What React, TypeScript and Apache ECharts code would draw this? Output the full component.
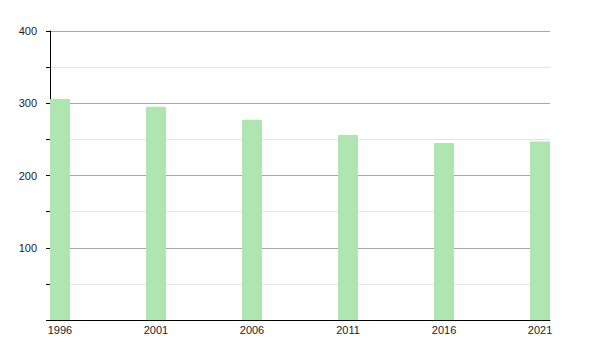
import React, { useEffect, useRef } from "react";
import * as echarts from "echarts";

const years: number[] = [1996, 2001, 2006, 2011, 2016, 2021];
const values: number[] = [306, 295, 277, 256, 245, 247];
const yTickLabels: number[] = [100, 200, 300, 400];

export default function App() {
  const ref = useRef<HTMLDivElement>(null);
  useEffect(() => {
    if (!ref.current) return;
    const chart = echarts.init(ref.current, null, { renderer: "svg" });
    const offset = 0.52; // bar drawn to the right of its year
    chart.setOption({
      animation: false,
      grid: { left: 50, right: 50, top: 31, bottom: 30 },
      xAxis: {
        type: "value",
        min: 1996,
        max: 2022.04,
        axisLine: { show: true, lineStyle: { color: "#000", width: 1 } },
        axisTick: { show: false },
        splitLine: { show: false },
        axisLabel: {
          customValues: years.map((y) => y + offset),
          formatter: (v: number) => String(Math.floor(v)),
          color: "#222",
          fontSize: 11,
          fontFamily: "Liberation Sans",
          margin: 4,
        },
      },
      yAxis: {
        type: "value",
        min: 0,
        max: 400,
        interval: 50,
        axisLine: { show: true, lineStyle: { color: "#000", width: 1 } },
        axisTick: { show: true, length: 4, lineStyle: { color: "#000" } },
        splitLine: {
          show: true,
          lineStyle: { color: ["#aaaaaa", "#e2e2e2"], width: 1 },
        },
        axisLabel: {
          formatter: (v: number) => (yTickLabels.includes(v) ? String(v) : ""),
          color: "#222",
          fontSize: 11,
          fontFamily: "Liberation Sans",
          margin: 13,
        },
      },
      series: [
        {
          type: "bar",
          barWidth: 20,
          data: years.map((y, i) => [y + offset, values[i]]),
          itemStyle: { color: "#aee5b1" },
        },
      ],
    });
    return () => chart.dispose();
  }, []);
  return <div ref={ref} style={{ width: 600, height: 350, margin: -8 }} />;
}
